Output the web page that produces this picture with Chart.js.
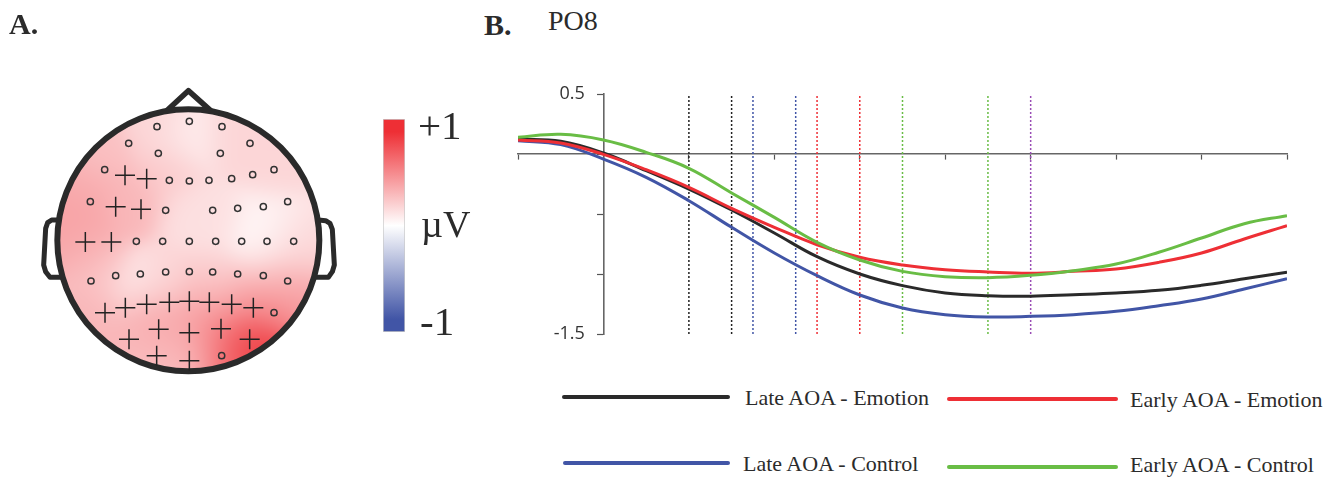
<!DOCTYPE html>
<html>
<head>
<meta charset="utf-8">
<script src="https://cdn.jsdelivr.net/npm/chart.js@4"></script>
<style>
html, body { margin: 0; background: #fff; }
body { position: relative; width: 1336px; height: 477px; overflow: hidden; font-family: "Liberation Serif", serif; color: #2b2b2b; filter: blur(0.45px); }
canvas { position: absolute; }
.lbl { position: absolute; white-space: nowrap; line-height: 1; }
.line { position: absolute; height: 3.5px; border-radius: 2px; }
</style>
</head>
<body>
<canvas id="head" style="left:0;top:0"></canvas>
<canvas id="bar" style="left:370px;top:100px"></canvas>
<canvas id="erp" style="left:480px;top:60px"></canvas>

<div class="lbl" style="left:9px;top:9px;font-size:30px;font-weight:bold">A.</div>
<div class="lbl" style="left:484px;top:10px;font-size:30px;font-weight:bold">B.</div>
<div class="lbl" style="left:548px;top:7px;font-size:28px">PO8</div>
<div class="lbl" style="left:418px;top:105px;font-size:41px">+1</div>
<div class="lbl" style="left:421px;top:205px;font-size:38px">µV</div>
<div class="lbl" style="left:420px;top:301px;font-size:41px">-1</div>
<div id="legend"></div>

<script>
// ERP time axis (ms) and mean amplitudes (uV), PO8
const times = [-100,-50,0,50,100,150,200,250,300,350,400,450,500,550,600,650,700,750,800];
const lateEmotion = [0.125,0.106,0.008,-0.139,-0.292,-0.467,-0.658,-0.856,-1.0,-1.097,-1.158,-1.181,-1.185,-1.172,-1.158,-1.136,-1.094,-1.039,-0.986];
const earlyEmotion = [0.117,0.092,-0.003,-0.131,-0.278,-0.453,-0.611,-0.756,-0.861,-0.925,-0.964,-0.983,-0.994,-0.978,-0.958,-0.903,-0.825,-0.708,-0.597];
const lateControl = [0.111,0.078,-0.042,-0.194,-0.389,-0.611,-0.825,-1.014,-1.175,-1.283,-1.339,-1.358,-1.353,-1.339,-1.311,-1.264,-1.208,-1.125,-1.039];
const earlyControl = [0.139,0.164,0.117,0.014,-0.119,-0.325,-0.528,-0.736,-0.883,-0.978,-1.022,-1.031,-1.011,-0.972,-0.917,-0.819,-0.700,-0.581,-0.514];

// dotted time windows
const blackWindow = [100,150];
const blueWindow = [175,225];
const redWindow = [250,300];
const greenWindow = [350,450];
const purpleWindow = [500];

const yTicksShown = [0.5,-1.5];

// electrodes on the head map (reference-unit positions)
const circleX = [471,568,666,386,475,661,750,314,508,568,627,695,758,822,271,497,638,713,790,863,409,488,568,647,725,801,881,273,347,421,497,568,638,713,790,863,822,665];
const circleY = [170,154,170,220,250,250,220,299,331,333,331,326,314,299,395,421,421,415,410,395,514,514,514,514,514,514,514,633,617,612,606,605,606,612,617,633,728,857];
const plusX = [375,440,347,423,256,334,315,376,440,508,568,628,695,760,387,476,568,663,749,470,568];
const plusY = [316,326,410,418,516,516,728,713,703,697,694,697,703,713,808,778,788,776,808,857,872];

// amplitude samples for the scalp colour map
const heatX = [210,300,250,565,470,700,820,500,400,560,650,800,870,780,900,250,300,400,500,650,800,880,800,700,600,450,300,400,500,600,700,750,650,560,450,680];
const heatY = [450,250,350,200,170,200,300,300,400,430,450,450,500,520,550,520,600,650,620,620,620,650,720,700,700,730,720,820,800,830,820,830,780,880,880,880];
const heatV = [0.45,0.3,0.4,0.08,0.2,0.2,0.2,0.25,0.35,0.15,0.15,0.05,0.15,0.02,0.2,0.4,0.3,0.08,0.2,0.2,0.3,0.45,0.6,0.45,0.4,0.4,0.35,0.35,0.42,0.4,0.85,1,0.55,0.3,0.3,0.7];

const BLACK = '#2a2a2a', RED = '#ee2f35', BLUE = '#4155a6', GREEN = '#69bd45', PURPLE = '#9a4db5';

function mix(a, b, t) {
  return a.map((c, i) => Math.round(c + (b[i] - c) * t));
}
function heatColor(v) {
  return v >= 0 ? mix([255,255,255], [238,47,53], Math.min(v,1)) : mix([255,255,255], [65,85,166], Math.min(-v,1));
}

// scalp map: colour field, head outline
const headPlugin = {
  id: 'head',
  beforeDatasetsDraw(chart) {
    const g = chart.ctx, xs = chart.scales.x, ys = chart.scales.y;
    const cx = xs.getPixelForValue(565), cy = ys.getPixelForValue(511);
    const r = xs.getPixelForValue(565 + 393) - cx;
    const size = Math.ceil(r * 2) + 2;
    const off = document.createElement('canvas');
    off.width = off.height = size;
    const oc = off.getContext('2d');
    const img = oc.createImageData(size, size);
    const px = heatX.map(v => xs.getPixelForValue(v)), py = heatY.map(v => ys.getPixelForValue(v));
    const ox = cx - size / 2, oy = cy - size / 2;
    for (let j = 0; j < size; j++) {
      for (let i = 0; i < size; i++) {
        let sw = 0, sv = 0;
        for (let k = 0; k < px.length; k++) {
          const d2 = (i + ox - px[k]) ** 2 + (j + oy - py[k]) ** 2;
          const w = Math.exp(-d2 / 800);
          sw += w; sv += w * heatV[k];
        }
        const c = heatColor(sv / sw), p = (j * size + i) * 4;
        img.data[p] = c[0]; img.data[p+1] = c[1]; img.data[p+2] = c[2]; img.data[p+3] = 255;
      }
    }
    oc.putImageData(img, 0, 0);

    g.save();
    g.save();
    g.beginPath(); g.arc(cx, cy, r, 0, Math.PI * 2); g.clip();
    g.drawImage(off, ox, oy);
    g.restore();

    g.strokeStyle = BLACK; g.lineJoin = 'round'; g.lineCap = 'round';
    const path = pts => {
      g.beginPath();
      pts.forEach((p, i) => {
        const x = xs.getPixelForValue(p[0]), y = ys.getPixelForValue(p[1]);
        if (i) g.lineTo(x, y); else g.moveTo(x, y);
      });
      g.stroke();
    };
    g.lineWidth = 5;
    path([[175,450],[155,450],[143,458],[137,475],[131,585],[137,605],[150,622],[182,622]]);
    path([[955,450],[977,452],[990,460],[997,478],[1003,585],[997,605],[985,622],[950,622]]);
    g.lineWidth = 5.5;
    path([[500,122],[565,62],[632,122]]);
    g.lineWidth = 6;
    g.beginPath(); g.arc(cx, cy, r, 0, Math.PI * 2); g.stroke();
    g.restore();
  }
};

const toPoints = (xs, ys) => xs.map((x, i) => ({x: x, y: ys[i]}));

const headCanvas = document.getElementById('head');
headCanvas.width = 480; headCanvas.height = 477;
new Chart(headCanvas, {
  type: 'scatter',
  data: {
    datasets: [
      { label: 'n.s.', data: toPoints(circleX, circleY), pointStyle: 'circle', pointRadius: 3.1, pointBorderColor: '#333', pointBackgroundColor: 'rgba(255,255,255,0)', pointBorderWidth: 1.5 },
      { label: 'sig.', data: toPoints(plusX, plusY), pointStyle: 'cross', pointRadius: 10, pointBorderColor: '#222', pointBorderWidth: 1.5 }
    ]
  },
  options: {
    responsive: false, animation: false, events: [],
    layout: { autoPadding: false, padding: { left: 5, right: 108.33, top: 83.67, bottom: 81.67 } },
    plugins: { legend: { display: false }, tooltip: { enabled: false } },
    scales: {
      x: { display: false, min: 15, max: 1115 },
      y: { display: false, reverse: true, min: 41, max: 976 }
    }
  },
  plugins: [headPlugin]
});

// colour bar
const barCanvas = document.getElementById('bar');
barCanvas.width = 50; barCanvas.height = 250;
new Chart(barCanvas, {
  type: 'bar',
  data: {
    labels: ['µV'],
    datasets: [{
      data: [[-1, 1]],
      barPercentage: 1, categoryPercentage: 1,
      borderWidth: 1, borderColor: '#c9c9c9', borderSkipped: false,
      backgroundColor(ctx) {
        const area = ctx.chart.chartArea;
        if (!area) return RED;
        const grad = ctx.chart.ctx.createLinearGradient(0, area.top, 0, area.bottom);
        grad.addColorStop(0, RED);
        grad.addColorStop(0.06, RED);
        grad.addColorStop(0.5, '#ffffff');
        grad.addColorStop(0.94, BLUE);
        grad.addColorStop(1, BLUE);
        return grad;
      }
    }]
  },
  options: {
    responsive: false, animation: false, events: [],
    layout: { autoPadding: false, padding: { left: 13, right: 15, top: 19, bottom: 18 } },
    plugins: { legend: { display: false }, tooltip: { enabled: false } },
    scales: {
      x: { display: false },
      y: { display: false, min: -1, max: 1 }
    }
  }
});

// waveforms
const series = [
  { name: 'Early AOA - Control', values: earlyControl, color: GREEN },
  { name: 'Early AOA - Emotion', values: earlyEmotion, color: RED },
  { name: 'Late AOA - Emotion', values: lateEmotion, color: BLACK },
  { name: 'Late AOA - Control', values: lateControl, color: BLUE }
];
const windows = [
  { at: blackWindow, color: '#222' },
  { at: blueWindow, color: BLUE },
  { at: redWindow, color: RED },
  { at: greenWindow, color: GREEN },
  { at: purpleWindow, color: PURPLE }
];

const datasets = series.map(s => ({
  label: s.name,
  data: toPoints(times, s.values),
  borderColor: s.color,
  borderWidth: 3,
  pointRadius: 0,
  tension: 0.4
}));
windows.forEach(w => w.at.forEach(t => datasets.push({
  data: [{x: t, y: -1.5}, {x: t, y: 0.5}],
  borderColor: w.color,
  borderWidth: 1.5,
  borderDash: [2, 2],
  pointRadius: 0
})));

const erpCanvas = document.getElementById('erp');
erpCanvas.width = 856; erpCanvas.height = 300;
new Chart(erpCanvas, {
  type: 'line',
  data: { datasets: datasets },
  options: {
    responsive: false, animation: false, events: [],
    layout: { autoPadding: false, padding: { left: 38, right: 49, top: 34, bottom: 26 } },
    plugins: { legend: { display: false }, tooltip: { enabled: false } },
    scales: {
      x: {
        type: 'linear', min: -100, max: 800,
        position: { y: 0 },
        ticks: { stepSize: 100, display: false },
        grid: { drawOnChartArea: false, tickLength: 5, tickColor: '#555', tickWidth: 1.2 },
        border: { color: '#666', width: 1.6 }
      },
      y: {
        type: 'linear', min: -1.5, max: 0.5,
        position: { x: 0 },
        ticks: {
          stepSize: 0.5,
          color: '#333',
          font: { family: 'Open Sans', size: 18 },
          callback: v => yTicksShown.includes(v) ? v + '    ' : ''
        },
        grid: { drawOnChartArea: false, tickLength: 6, tickColor: '#555', tickWidth: 1.2 },
        border: { color: '#666', width: 1.6 }
      }
    }
  }
});

// legend laid out as in the figure
const legendRows = [
  { name: 'Late AOA - Emotion', color: BLACK, lx: 562, ly: 395, tx: 745, ty: 387, w: 168 },
  { name: 'Early AOA - Emotion', color: RED, lx: 947, ly: 397, tx: 1130, ty: 389, w: 171 },
  { name: 'Late AOA - Control', color: BLUE, lx: 563, ly: 461, tx: 743, ty: 453, w: 167 },
  { name: 'Early AOA - Control', color: GREEN, lx: 947, ly: 465, tx: 1130, ty: 454, w: 171 }
];
const legend = document.getElementById('legend');
legendRows.forEach(r => {
  const line = document.createElement('div');
  line.className = 'line';
  line.style.cssText = `left:${r.lx}px;top:${r.ly}px;width:${r.w}px;background:${r.color}`;
  const text = document.createElement('div');
  text.className = 'lbl';
  text.style.cssText = `left:${r.tx}px;top:${r.ty}px;font-size:22px`;
  text.textContent = r.name;
  legend.appendChild(line);
  legend.appendChild(text);
});
</script>
</body>
</html>
